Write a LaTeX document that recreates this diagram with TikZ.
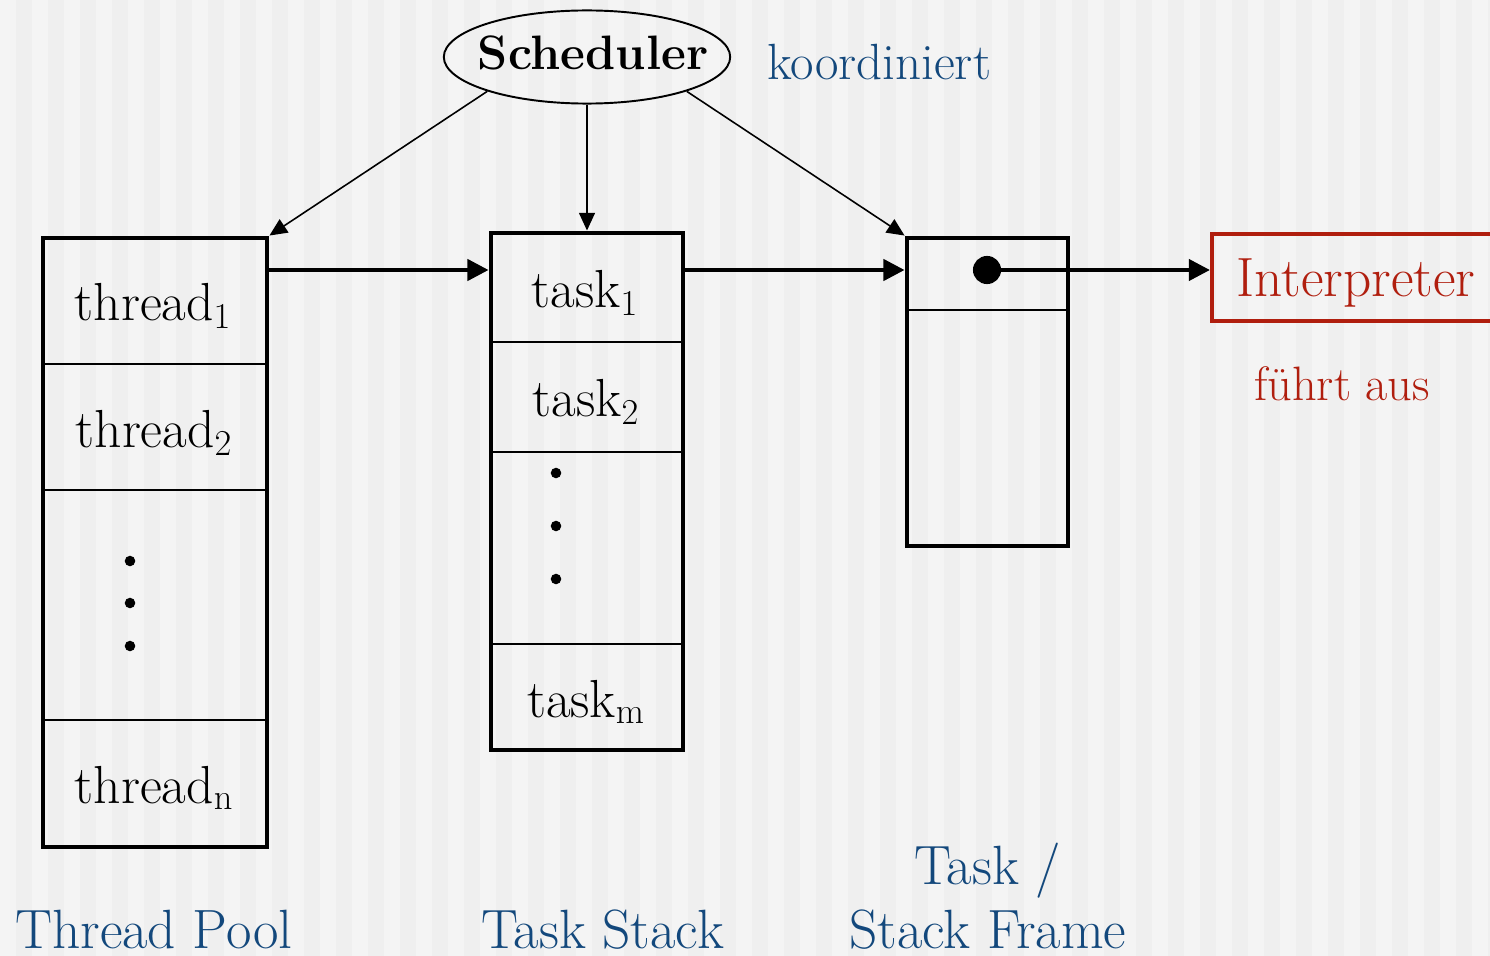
\documentclass[tikz,border=0pt]{standalone}
\usetikzlibrary{arrows.meta,fit,calc,shapes.geometric}
\definecolor{bgA}{HTML}{F4F4F4}
\definecolor{bgB}{HTML}{EFEFEF}
\definecolor{lblue}{HTML}{13487C}
\definecolor{lred}{HTML}{B01E0E}
\begin{document}
\begin{tikzpicture}[x=0.02cm,y=-0.02cm,
  box/.style={draw, line width=2.8pt, inner sep=0pt},
  divider/.style={line width=1.3pt},
  flow/.style={line width=2.3pt, -{Triangle[length=12pt,width=12pt]}},
  ctrl/.style={line width=0.9pt, -{Triangle[length=10pt,width=9pt]}},
  lbl/.style={font=\fontsize{30.5}{34}\selectfont, anchor=base},
  bluelbl/.style={text=lblue, font=\fontsize{31.5}{36}\selectfont, anchor=base west},
  pdot/.style={circle, fill=black, inner sep=0pt, minimum size=6pt}
]
\useasboundingbox (0,0) rectangle (1490,956);
% background
\begin{scope}
\clip (0,0) rectangle (1490,956);
\fill[bgA] (0,0) rectangle (1490,956);
\foreach \i in {0,...,46} { \fill[bgB] (\i*32+16,0) rectangle (\i*32+32,956); }
\end{scope}

% scheduler
\node[ellipse, draw, line width=1.1pt, minimum width=163pt, minimum height=53pt,
      inner sep=0pt] (sch) at (587,57) {};
\node[font=\bfseries\fontsize{27.5}{32}\selectfont, anchor=base] (schtxt) at (593,70) {Scheduler};
\node[text=lblue, font=\fontsize{29}{33}\selectfont, anchor=base west] (koord) at (761,80) {koordiniert};

% thread pool
\node[box, fit={(43,238) (267,847)}] (pool) {};
\draw[divider] (43,364) -- (267,364);
\draw[divider] (43,490) -- (267,490);
\draw[divider] (43,720) -- (267,720);
\node[lbl] (th1) at (153,320) {thread$_1$};
\node[lbl] (th2) at (154,447) {thread$_2$};
\node[pdot] (pd1) at (130,561) {};
\node[pdot] (pd2) at (130,603) {};
\node[pdot] (pd3) at (130,646) {};
\node[lbl] (thn) at (154,803) {thread$_\mathrm{n}$};

% task stack
\node[box, fit={(491,233) (683,750)}] (stack) {};
\draw[divider] (491,342) -- (683,342);
\draw[divider] (491,452) -- (683,452);
\draw[divider] (491,644) -- (683,644);
\node[lbl] (ts1) at (585,307) {task$_1$};
\node[lbl] (ts2) at (586,416) {task$_2$};
\node[pdot] (sd1) at (556,473) {};
\node[pdot] (sd2) at (556,526) {};
\node[pdot] (sd3) at (556,579) {};
\node[lbl] (tsm) at (586,717) {task$_\mathrm{m}$};

% frame
\node[box, fit={(907,238) (1068,546)}] (frame) {};
\draw[divider] (907,310) -- (1068,310);
\node[circle, fill=black, inner sep=0pt, minimum size=16pt] (dot) at (987,270) {};

% interpreter
\node[draw=lred, line width=2.3pt, minimum width=164pt, minimum height=50pt, inner sep=0pt,
      text=lred, text depth=0pt, font=\fontsize{31.5}{36}\selectfont] (interp) at (1356,277.5) {Interpreter};
\node[text=lred, font=\fontsize{27.5}{32}\selectfont, anchor=base west] (fuehrt) at (1248,400) {führt aus};

% connectors
\coordinate (row) at (0,270);
\draw[flow] (pool.east |- row) -- (stack.west |- row);
\draw[flow] (stack.east |- row) -- (frame.west |- row);
\draw[flow] (dot.center) -- (interp.west |- dot.center);
\draw[ctrl] (sch.199) -- (pool.north east);
\draw[ctrl] (sch.south) -- (stack.north);
\draw[ctrl] (sch.341) -- (frame.north west);

% bottom labels
\node[bluelbl] (lpool) at (9,948) {Thread Pool};
\node[bluelbl] (lstack) at (475,948) {Task Stack};
\node[bluelbl] (lframe1) at (908,884) {Task /};
\node[bluelbl] (lframe2) at (843,948) {Stack Frame};
\end{tikzpicture}
\end{document}
